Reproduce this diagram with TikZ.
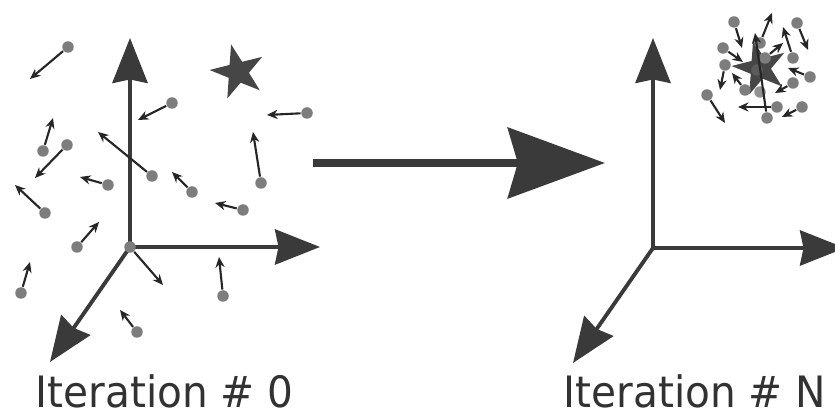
\documentclass[tikz,border=0pt]{standalone}
\usepackage{fontspec}
\setmainfont[FakeStretch=0.94]{DejaVu Sans}
\usepackage{tikz}
\usetikzlibrary{arrows.meta,shapes.geometric}
\definecolor{pswaxis}{RGB}{58,58,58}
\definecolor{pswdot}{RGB}{125,125,125}
\definecolor{pswvel}{RGB}{38,38,38}
\definecolor{pswstar}{RGB}{70,70,70}
\definecolor{pswtext}{RGB}{50,50,50}

\begin{document}
\begin{tikzpicture}[
    axis/.style={-{Stealth[length=12.8pt,width=10pt,inset=1pt]},pswaxis,line width=1.1pt},
    particle/.style={circle,fill=pswdot,inner sep=0pt,minimum size=0.115cm},
    vel/.style={-{Stealth[length=3pt,width=2.6pt]},pswvel,line width=0.6pt},
    target/.style={star,star points=5,star point ratio=2.6,minimum size=0.57cm,inner sep=0pt,fill=pswstar,rotate=14},
    caption/.style={anchor=base west,inner sep=0pt,text=pswtext,font=\fontsize{12.3}{14}\selectfont}]
  \useasboundingbox (0,0) rectangle (8.35,4.14);
  \clip (0,0) rectangle (8.35,4.14);
  % iteration 0
  \coordinate (o0) at (1.30,1.67);
  \coordinate (o0y) at (1.30,3.76);
  \coordinate (o0x) at (3.20,1.67);
  \coordinate (o0z) at (0.50,0.52);
  \draw[axis] (o0) -- (o0y);
  \draw[axis] (o0) -- (o0x);
  \draw[axis] (o0) -- (o0z);
  \node[target] (goal0) at (2.38,3.42) {};
  \foreach \n/\p/\q in {1/{0.68,3.67}/{0.30,3.35}, 2/{1.72,3.11}/{1.38,2.94},
      3/{3.07,3.01}/{2.67,2.99}, 4/{0.43,2.63}/{0.53,2.96}, 5/{0.67,2.69}/{0.35,2.36},
      6/{1.52,2.38}/{0.98,2.82}, 7/{1.08,2.29}/{0.80,2.37}, 8/{1.92,2.22}/{1.72,2.42},
      9/{2.61,2.31}/{2.53,2.82}, 10/{2.43,2.04}/{2.15,2.11}, 11/{0.45,2.01}/{0.15,2.29},
      12/{0.77,1.67}/{0.99,1.92}, 13/{1.30,1.67}/{1.63,1.29}, 14/{0.21,1.21}/{0.30,1.52},
      15/{2.23,1.18}/{2.19,1.57}, 16/{1.37,0.82}/{1.20,1.04}}
  {
    \node[particle] (p\n) at (\p) {};
    \coordinate (v\n) at (\q);
    \draw[vel] (p\n) -- (v\n);
  }
  \node[caption] (cap0) at (0.35,0.06) {Iteration \# 0};
  % step arrow
  \coordinate (stepa) at (3.13,2.51);
  \coordinate (stepb) at (6.05,2.51);
  \draw[-{Stealth[length=27.6pt,width=20pt,inset=2.8pt]},pswaxis,line width=2.3pt] (stepa) -- (stepb);
  % iteration N
  \coordinate (o1) at (6.53,1.66);
  \coordinate (o1y) at (6.53,3.76);
  \coordinate (o1x) at (8.45,1.66);
  \coordinate (o1z) at (5.73,0.51);
  \draw[axis] (o1) -- (o1y);
  \draw[axis] (o1) -- (o1x);
  \draw[axis] (o1) -- (o1z);
  \node[target] (goal1) at (7.60,3.46) {};
  \node[particle,fill=pswdot!80!black,fill opacity=0.7] (q0) at (7.57,3.44) {};
  \node[particle,fill=pswdot!80!black,fill opacity=0.7] (q00) at (7.60,3.22) {};
  \foreach \n/\p/\q in {1/{7.34,3.92}/{7.42,3.66}, 2/{7.97,3.91}/{8.08,3.64},
      3/{7.60,3.71}/{7.72,4.01}, 4/{7.23,3.66}/{7.43,3.52}, 5/{7.25,3.49}/{7.20,3.24},
      6/{7.65,3.56}/{7.83,3.71}, 7/{7.93,3.56}/{7.83,3.87}, 8/{8.10,3.37}/{7.88,3.46},
      9/{7.93,3.31}/{7.75,3.21}, 10/{7.45,3.24}/{7.32,3.41}, 11/{7.07,3.19}/{7.25,2.91},
      12/{7.77,3.07}/{7.38,3.07}, 13/{8.02,3.07}/{7.82,2.97}, 14/{7.67,2.96}/{7.55,3.81}}
  {
    \node[particle] (q\n) at (\p) {};
    \coordinate (w\n) at (\q);
    \draw[vel] (q\n) -- (w\n);
  }
  \node[caption] (cap1) at (5.63,0.06) {Iteration \# N};
\end{tikzpicture}
\end{document}
